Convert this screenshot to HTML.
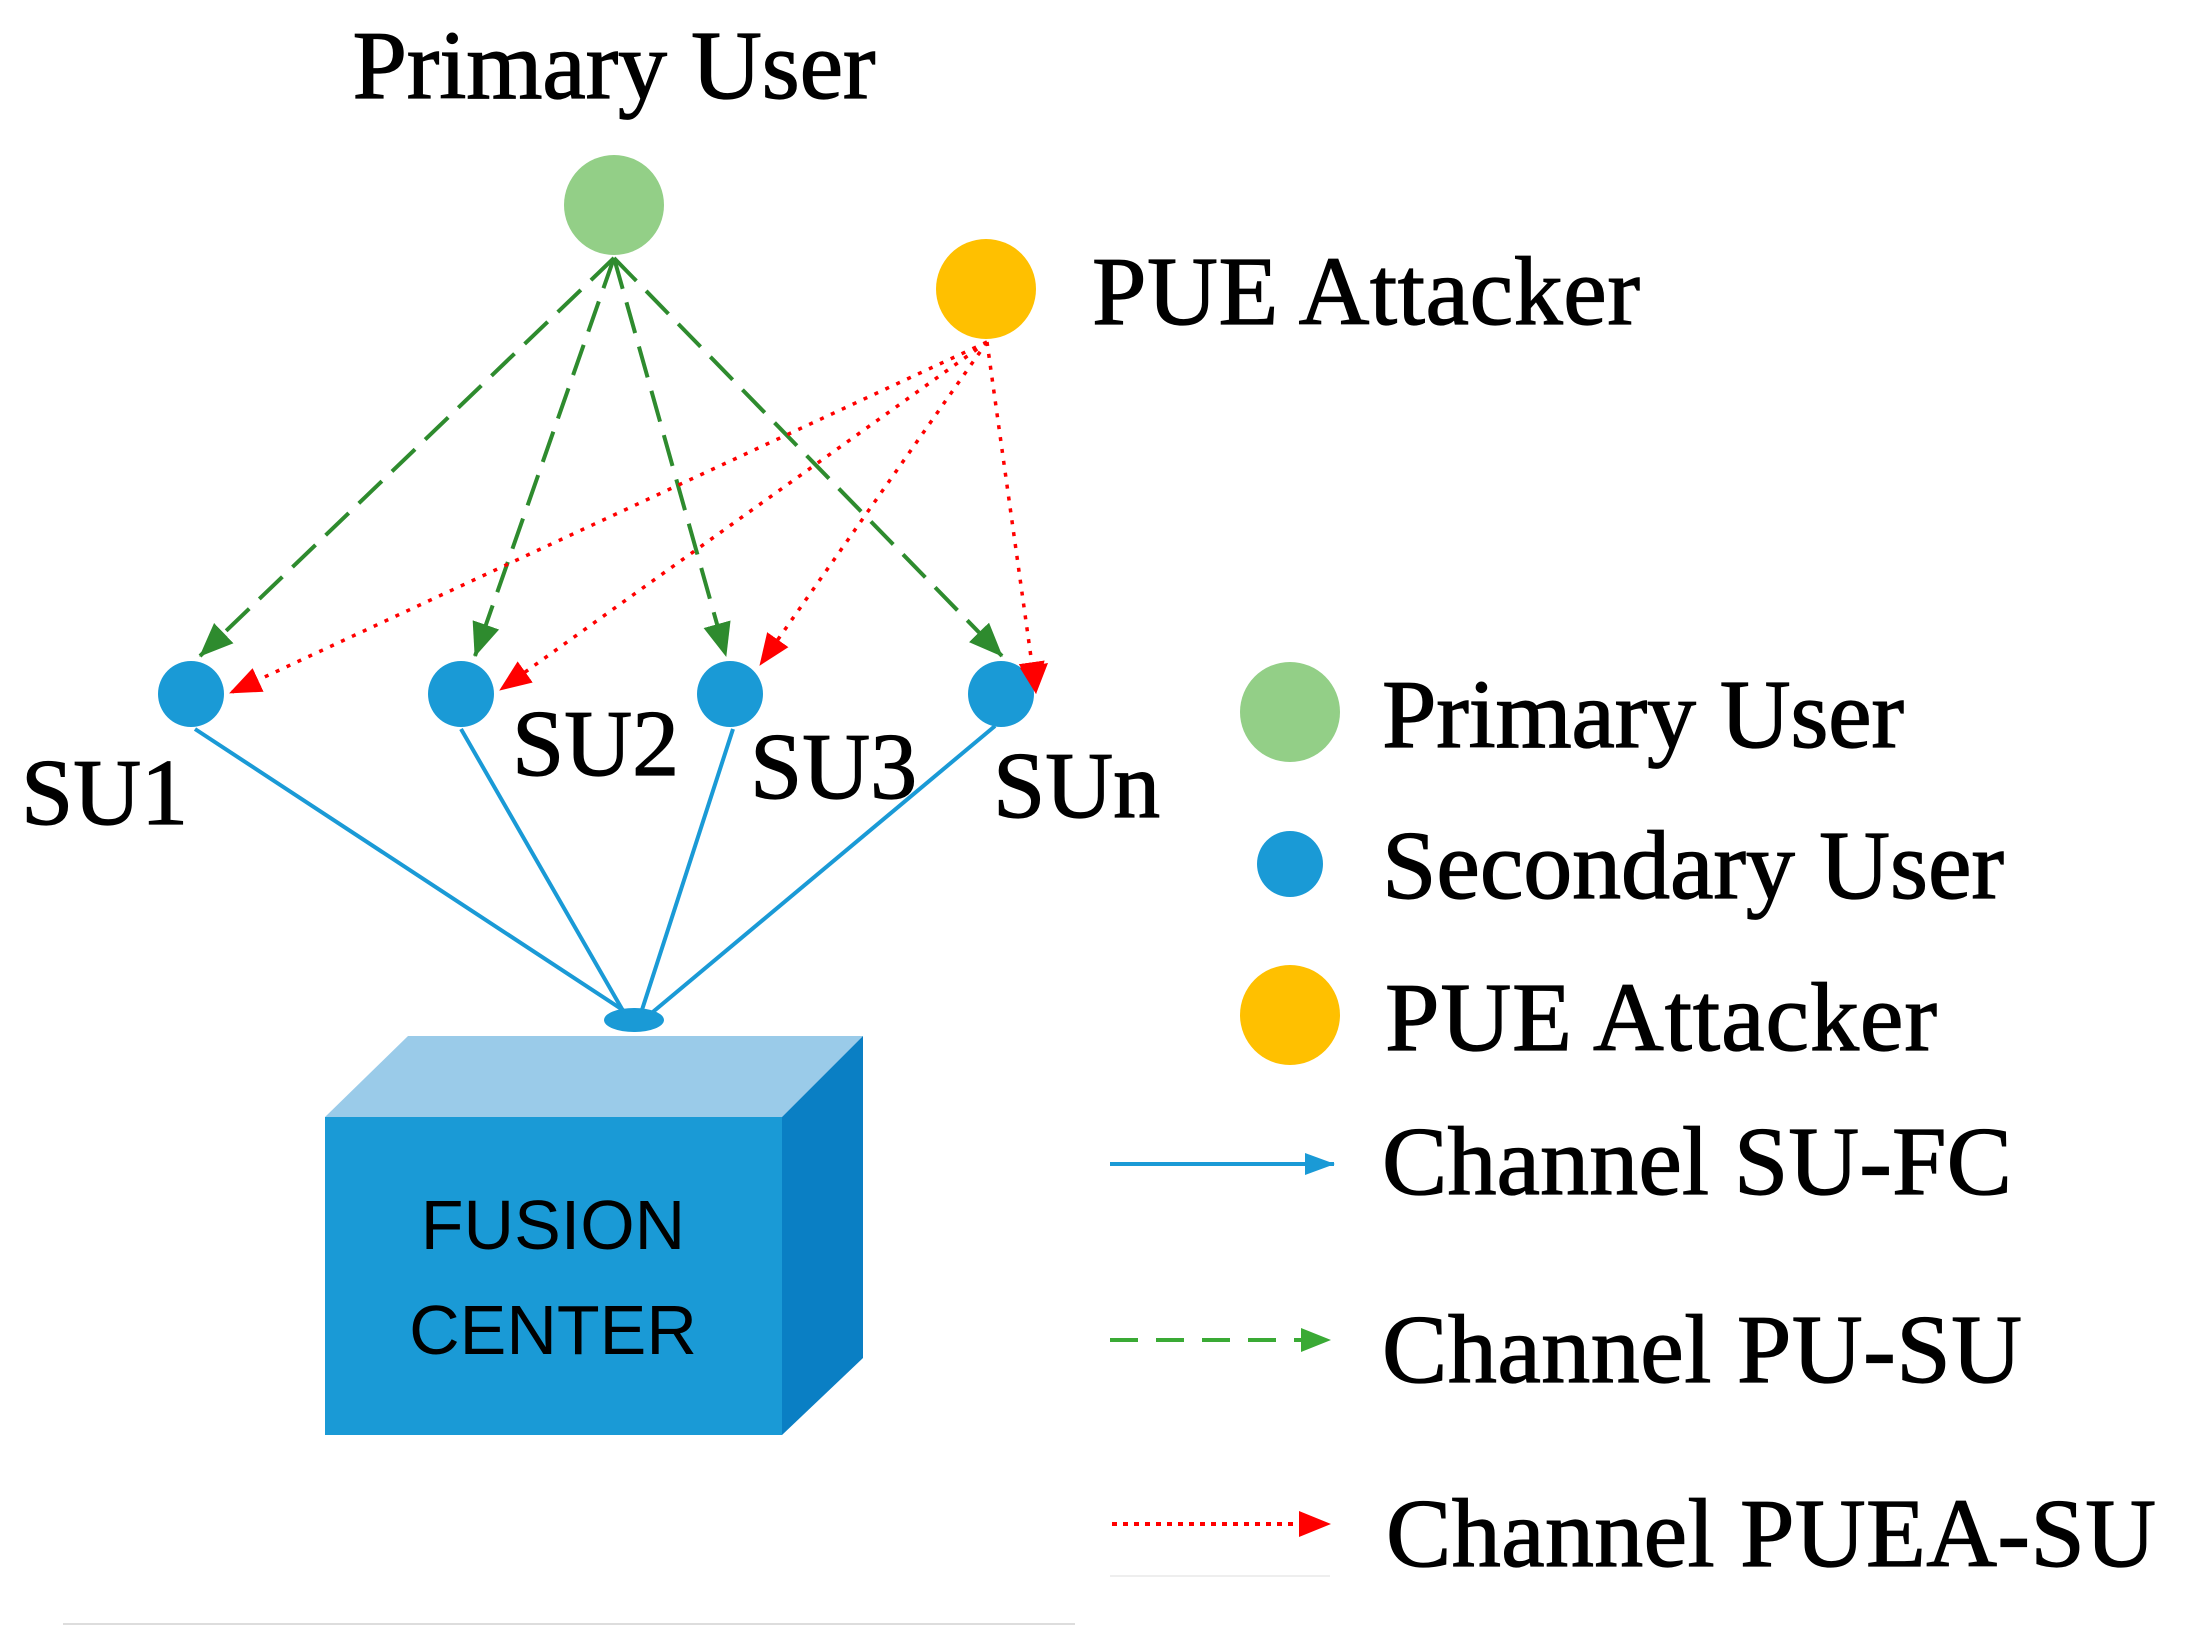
<!DOCTYPE html>
<html><head><meta charset="utf-8"><style>
html,body{margin:0;padding:0;background:#fff}
svg{display:block}
text{font-family:"Liberation Serif",serif;fill:#000;stroke:#000;stroke-width:1.2px}
</style></head><body>
<svg width="2189" height="1648" viewBox="0 0 2189 1648" xmlns="http://www.w3.org/2000/svg">
<defs>
<marker id="gl" markerWidth="30" markerHeight="30" refX="29" refY="15" orient="auto" markerUnits="userSpaceOnUse" viewBox="0 0 30 30"><path d="M0,3 L30,15 L0,27 z" fill="#3aaa35"/></marker>
<marker id="r" markerWidth="32" markerHeight="32" refX="31" refY="16" orient="auto" markerUnits="userSpaceOnUse" viewBox="0 0 32 32"><path d="M0,3 L32,16 L0,29 z" fill="#f00"/></marker>
<marker id="b" markerWidth="30" markerHeight="30" refX="29" refY="15" orient="auto" markerUnits="userSpaceOnUse" viewBox="0 0 30 30"><path d="M0,4 L30,15 L0,26 z" fill="#1a9ad6"/></marker>
<marker id="ga" markerWidth="34" markerHeight="34" refX="33" refY="17" orient="auto" markerUnits="userSpaceOnUse" viewBox="0 0 34 34"><path d="M0,3 L34,17 L0,31 z" fill="#2e8b2e"/></marker>
</defs>

<g stroke="#1a9ad6" stroke-width="4" fill="none">
<line x1="195" y1="729" x2="632" y2="1016"/>
<line x1="461" y1="729" x2="626" y2="1016"/>
<line x1="733" y1="729" x2="640" y2="1016"/>
<line x1="995" y1="726" x2="648" y2="1016"/>
</g>
<ellipse cx="634" cy="1020" rx="30" ry="12" fill="#1a9ad6"/>

<polygon points="325,1117 408,1036 863,1036 782,1117" fill="#9acbe9"/>
<polygon points="782,1117 863,1036 863,1358 782,1435" fill="#0a7fc4"/>
<rect x="325" y="1117" width="457" height="318" fill="#1a9ad6"/>
<text x="553" y="1249" text-anchor="middle" style="font-family:'Liberation Sans',sans-serif;font-size:70px;stroke-width:0">FUSION</text>
<text x="553" y="1354" text-anchor="middle" style="font-family:'Liberation Sans',sans-serif;font-size:70px;stroke-width:0">CENTER</text>

<g stroke="#2e8b2e" stroke-width="4" fill="none" stroke-dasharray="32,14">
<line x1="614" y1="258" x2="200" y2="656" marker-end="url(#ga)"/>
<line x1="614" y1="258" x2="475" y2="656" marker-end="url(#ga)"/>
<line x1="614" y1="258" x2="726" y2="656" marker-end="url(#ga)"/>
<line x1="614" y1="258" x2="1002" y2="656" marker-end="url(#ga)"/>
</g>

<g stroke="#f00" stroke-width="3.5" fill="none" stroke-dasharray="4,8">
<line x1="987" y1="342" x2="230" y2="693" marker-end="url(#r)"/>
<line x1="987" y1="342" x2="500" y2="690" marker-end="url(#r)"/>
<line x1="987" y1="342" x2="760" y2="665" marker-end="url(#r)"/>
<line x1="987" y1="342" x2="1036" y2="693" marker-end="url(#r)"/>
</g>

<circle cx="614" cy="205" r="50" fill="#93cf87"/>
<circle cx="986" cy="289" r="50" fill="#ffc000"/>
<g fill="#1a9ad6">
<circle cx="191" cy="694" r="33"/>
<circle cx="461" cy="694" r="33"/>
<circle cx="730" cy="694" r="33"/>
<circle cx="1001" cy="694" r="33"/>
</g>
<polygon points="1020,668 1048,663 1036,694" fill="#f00"/>

<text x="614" y="98" text-anchor="middle" textLength="523" style="font-size:98px">Primary User</text>
<text x="1092" y="324" textLength="548" style="font-size:98px">PUE Attacker</text>
<text x="21" y="824" style="font-size:94px">SU1</text>
<text x="512" y="775" style="font-size:94px">SU2</text>
<text x="750" y="798" style="font-size:94px">SU3</text>
<text x="993" y="817" style="font-size:94px">SUn</text>

<circle cx="1290" cy="712" r="50" fill="#93cf87"/>
<circle cx="1290" cy="864" r="33" fill="#1a9ad6"/>
<circle cx="1290" cy="1015" r="50" fill="#ffc000"/>
<line x1="1110" y1="1164" x2="1334" y2="1164" stroke="#1a9ad6" stroke-width="4" marker-end="url(#b)"/>
<line x1="1110" y1="1340" x2="1330" y2="1340" stroke="#3aaa35" stroke-width="4" stroke-dasharray="28,18" marker-end="url(#gl)"/>
<line x1="1112" y1="1524" x2="1330" y2="1524" stroke="#f00" stroke-width="4" stroke-dasharray="5,6" marker-end="url(#r)"/>
<line x1="1110" y1="1576" x2="1330" y2="1576" stroke="#eee" stroke-width="2"/>
<line x1="63" y1="1624" x2="1075" y2="1624" stroke="#ddd" stroke-width="2"/>
<g style="font-size:98px">
<text x="1382" y="747" textLength="522">Primary User</text>
<text x="1382" y="898" textLength="622">Secondary User</text>
<text x="1385" y="1050" textLength="552">PUE Attacker</text>
<text x="1382" y="1194" textLength="630">Channel SU-FC</text>
<text x="1382" y="1382" textLength="640">Channel PU-SU</text>
<text x="1386" y="1566" textLength="770">Channel PUEA-SU</text>
</g>
</svg>
</body></html>
